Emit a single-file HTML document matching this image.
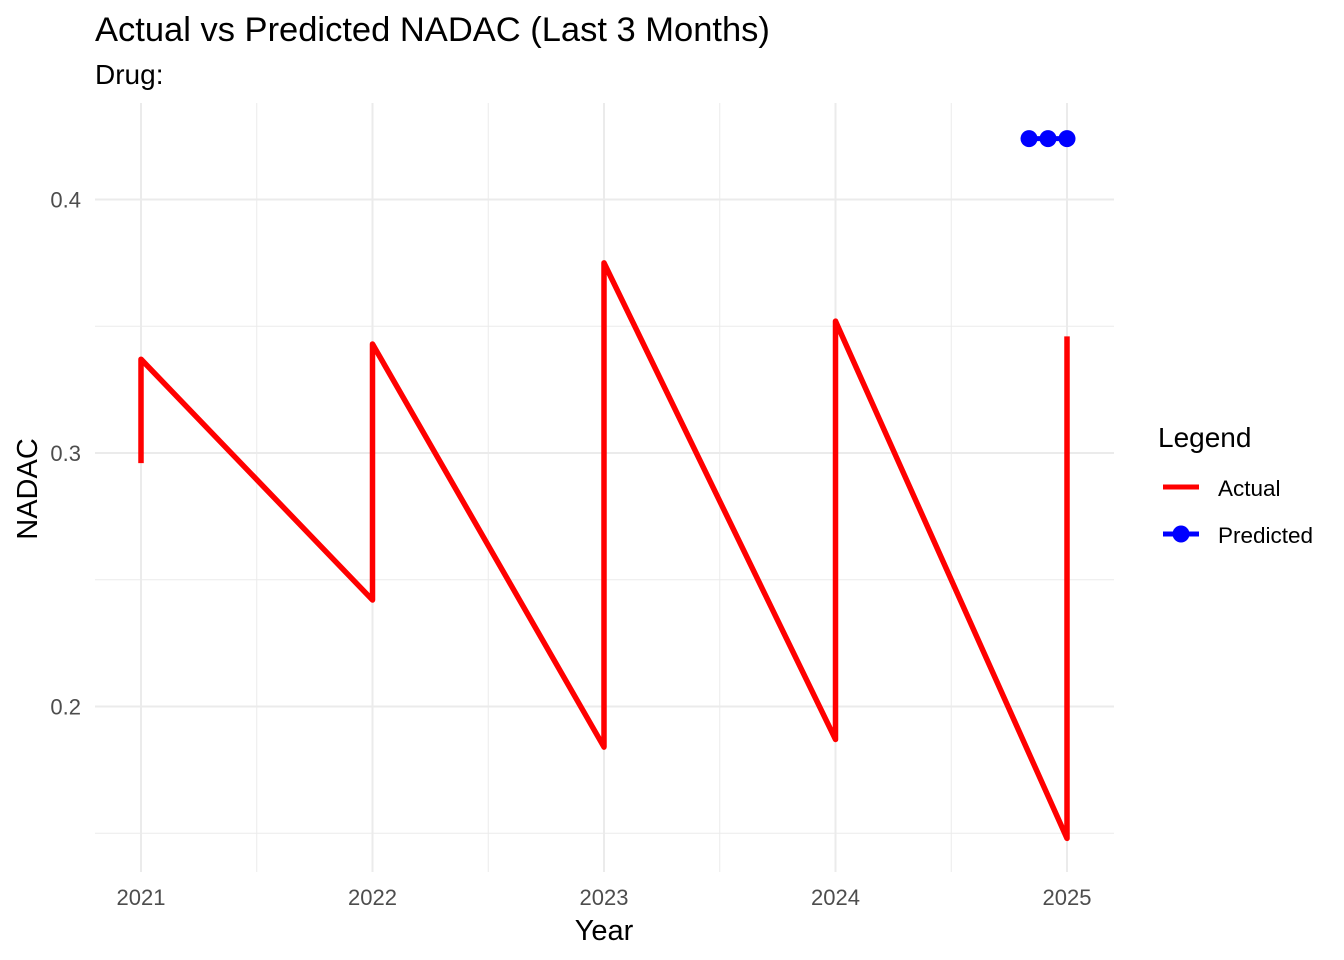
<!DOCTYPE html>
<html><head><meta charset="utf-8"><style>
html,body{margin:0;padding:0;background:#fff;}
svg{display:block;font-family:"Liberation Sans",Arial,sans-serif;}
</style></head><body>
<svg id="chart" width="1344" height="960" viewBox="0 0 1344 960">
<text x="95" y="41" font-size="34.5" fill="#000">Actual vs Predicted NADAC (Last 3 Months)</text>
<text x="95" y="84" font-size="28" fill="#000">Drug:</text>
<g id="grid"></g>
<g id="marks"></g>
<g id="ticks"></g>
<text x="604" y="940" font-size="29" text-anchor="middle" fill="#000">Year</text>
<text transform="translate(37,489) rotate(-90)" font-size="29" text-anchor="middle" fill="#000">NADAC</text>
<g>
<text x="1158" y="447" font-size="28" fill="#000">Legend</text>
<line x1="1163" y1="487" x2="1199" y2="487" stroke="#ff0000" stroke-width="5"/>
<text x="1218" y="496" font-size="22.5" fill="#000">Actual</text>
<line x1="1163" y1="534" x2="1199" y2="534" stroke="#0000ff" stroke-width="5"/>
<circle cx="1181" cy="534" r="8.5" fill="#0000ff"/>
<text x="1218" y="543" font-size="22.5" fill="#000">Predicted</text>
</g>
</svg>
<script>
const actualX = [2021, 2021, 2022, 2022, 2023, 2023, 2024, 2024, 2025, 2025];
const actualY = [0.296, 0.337, 0.242, 0.343, 0.184, 0.375, 0.187, 0.352, 0.148, 0.346];
const predX = [2024.836, 2024.918, 2025.0];
const predY = [0.424, 0.424, 0.424];
const xTicks = [2021, 2022, 2023, 2024, 2025];
const yTicks = [0.2, 0.3, 0.4];
const xMinor = [2021.5, 2022.5, 2023.5, 2024.5];
const yMinor = [0.15, 0.25, 0.35];

const NS = "http://www.w3.org/2000/svg";
function sx(v){ return 141 + (v - 2021) * 231.5; }
function sy(v){ return 453 - (v - 0.3) * 2535; }
const PL = 95, PR = 1114, PT = 103, PB = 872;
function mk(tag, attrs, parent){
  const e = document.createElementNS(NS, tag);
  for (const k in attrs) e.setAttribute(k, attrs[k]);
  parent.appendChild(e); return e;
}
const grid = document.getElementById('grid');
const ticks = document.getElementById('ticks');
const marks = document.getElementById('marks');
yMinor.forEach(v => {
  const l = mk('line', {x1:PL, x2:PR, y1:sy(v), y2:sy(v), stroke:'#ebebeb', 'stroke-width':1}, grid);
  
  
});
xMinor.forEach(v => {
  const l = mk('line', {x1:sx(v), x2:sx(v), y1:PT, y2:PB, stroke:'#ebebeb', 'stroke-width':1}, grid);
  
  
});
yTicks.forEach(v => {
  const l = mk('line', {x1:PL, x2:PR, y1:sy(v), y2:sy(v), stroke:'#ebebeb', 'stroke-width':2}, grid);
  
  
  const t = mk('text', {x:81, y:sy(v)+8, 'font-size':22, 'text-anchor':'end', fill:'#4d4d4d'}, ticks);
  t.textContent = v.toFixed(1);
  
  
});
xTicks.forEach(v => {
  const l = mk('line', {x1:sx(v), x2:sx(v), y1:PT, y2:PB, stroke:'#ebebeb', 'stroke-width':2}, grid);
  
  
  const t = mk('text', {x:sx(v), y:905, 'font-size':22, 'text-anchor':'middle', fill:'#4d4d4d'}, ticks);
  t.textContent = String(v);
  
  
});
const pts = actualX.map((x,i) => sx(x) + ',' + sy(actualY[i])).join(' ');
const pl = mk('polyline', {points:pts, fill:'none', stroke:'#ff0000', 'stroke-width':5.5, 'stroke-linejoin':'round'}, marks);


const pp = predX.map((x,i) => sx(x) + ',' + sy(predY[i])).join(' ');
const pline = mk('polyline', {points:pp, fill:'none', stroke:'#0000ff', 'stroke-width':5}, marks);


predX.forEach((x,i) => {
  const c = mk('circle', {cx:sx(x), cy:sy(predY[i]), r:8.5, fill:'#0000ff'}, marks);
  
  
});
</script>
</body></html>
